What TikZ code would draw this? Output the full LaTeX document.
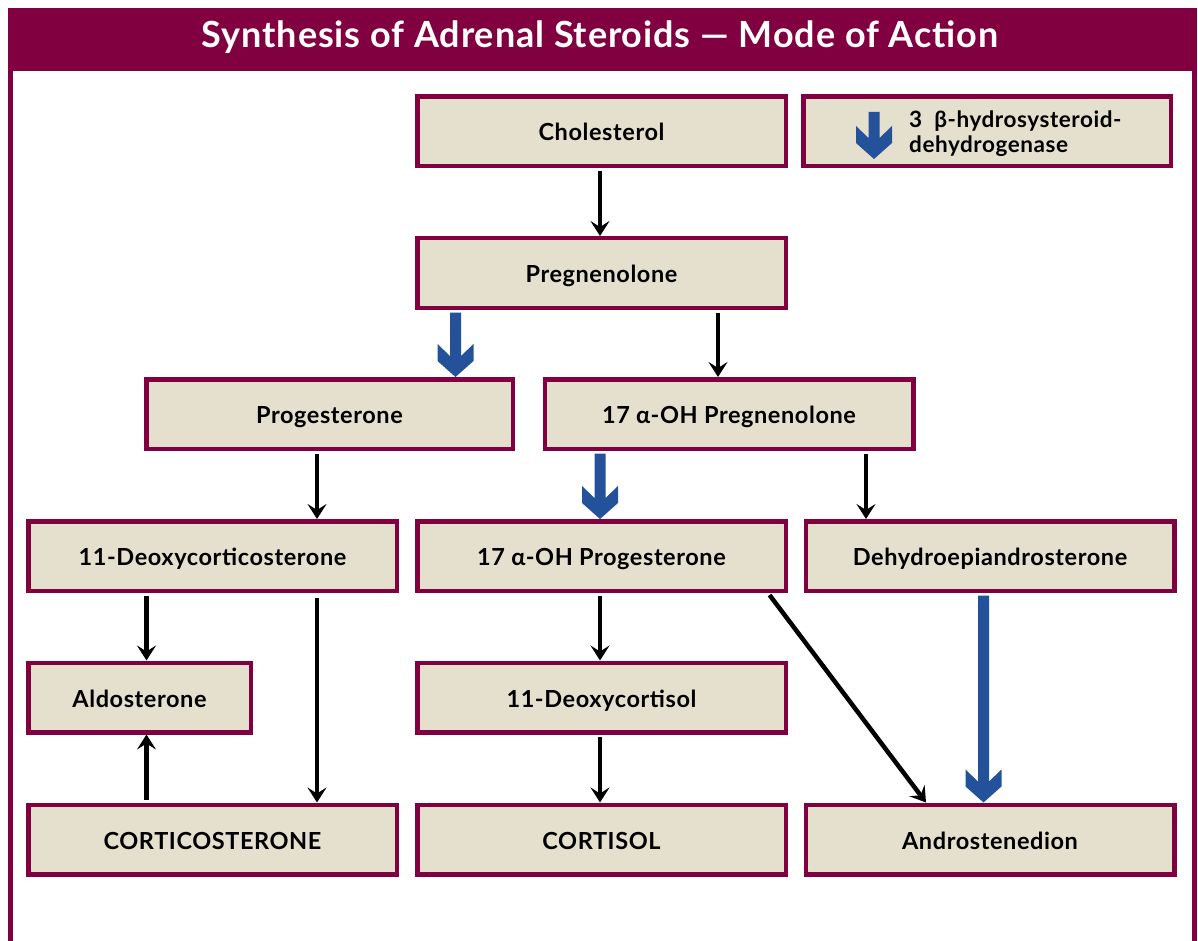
\documentclass[tikz,border=0pt]{standalone}
\usepackage{fontspec}
\setmainfont{Lato}
\newfontfamily\boxfont[LetterSpace=2.5]{Lato}
\newfontfamily\titlefont[LetterSpace=2.5]{Lato}
\usetikzlibrary{arrows.meta,calc}
\definecolor{maroon}{RGB}{128,0,64}
\definecolor{boxfill}{RGB}{229,224,205}
\definecolor{arrowblue}{RGB}{35,81,154}
\newcommand\bluearrow[3]{%
  \fill[arrowblue] let \p1=(#2 -| #1), \p2=(#3 -| #1) in
    (\x1-5.5pt,\y1-2.5pt) -- (\x1-5.5pt,\y2+21pt) -- (\x1-18pt,\y2+33pt) -- (\x1-18pt,\y2+16pt)
    -- (\x1,\y2) -- (\x1+18pt,\y2+16pt) -- (\x1+18pt,\y2+33pt) -- (\x1+5.5pt,\y2+21pt)
    -- (\x1+5.5pt,\y1-2.5pt) -- cycle;}
\tikzset{
  stepbox/.style={draw=maroon, line width=4.5pt, fill=boxfill, minimum width=368.5pt,
    minimum height=69.5pt, inner sep=0pt, text height=19pt, text depth=0pt,
    font=\boxfont\bfseries\fontsize{23.5}{28}\selectfont},
  smallbox/.style={stepbox, minimum width=222.5pt},
  blk/.style={line width=4.5pt, black, shorten <=2.5pt, -{Stealth[length=15pt,width=19pt,inset=6pt]}},
  frame/.style={maroon, line width=5pt},
}
\begin{document}
\begin{tikzpicture}[x=1pt,y=-1pt]
\useasboundingbox (0,0) rectangle (1198,941);
% frame and title bar
\draw[frame] (10.5,60) -- (10.5,941);
\draw[frame] (1194.5,60) -- (1194.5,941);
\fill[maroon] (8,8) rectangle (1197,71);
\node[text=white, font=\titlefont\bfseries\fontsize{36}{40}\selectfont] (title) at (600,37) {Synthesis of Adrenal Steroids — Mode of Action};
% boxes
\node[stepbox] (chol) at (601.5,131.5) {Cholesterol};
\node[stepbox, minimum width=367.5pt] (enz) at (987,131.5) {};
\node[anchor=west, align=left, inner sep=0pt, font=\boxfont\bfseries\fontsize{22.5}{25}\selectfont] (enztext) at (909,134) {3\ \ β-hydrosysteroid-\\dehydrogenase};
\node[stepbox] (preg) at (601.5,273) {Pregnenolone};
\node[stepbox, minimum width=366.5pt] (prog) at (329.5,414) {Progesterone};
\node[stepbox] (ohpreg) at (729,414) {17 α-OH Pregnenolone};
\node[stepbox] (doc) at (212.5,556) {11-Deoxycorticosterone};
\node[stepbox] (ohprog) at (601.5,556) {17 α-OH Progesterone};
\node[stepbox] (dhea) at (990,556) {Dehydroepiandrosterone};
\node[smallbox] (aldo) at (139.5,697.5) {Aldosterone};
\node[stepbox] (dcortisol) at (601.5,697.5) {11-Deoxycortisol};
\node[stepbox] (cortico) at (212.5,839.5) {CORTICOSTERONE};
\node[stepbox] (cortisol) at (601.5,839.5) {CORTISOL};
\node[stepbox] (andro) at (990,839.5) {Androstenedion};
% column coordinates
\coordinate (c146) at (146.5,0);
\coordinate (c317) at (317,0);
\coordinate (c455) at (455.5,0);
\coordinate (c600) at (600,0);
\coordinate (c718) at (718,0);
\coordinate (c768) at (768,0);
\coordinate (c866) at (866,0);
\coordinate (c926) at (926,0);
\coordinate (c983) at (983.5,0);
\coordinate (legtop) at (874,109.5);
\coordinate (legtip) at (874,159);
% black arrows
\draw[blk] (chol.south -| c600) -- (preg.north -| c600);
\draw[blk] (preg.south -| c718) -- (ohpreg.north -| c718);
\draw[blk] (prog.south -| c317) -- (doc.north -| c317);
\draw[blk] (ohpreg.south -| c866) -- (dhea.north -| c866);
\draw[blk] (doc.south -| c146) -- (aldo.north -| c146);
\draw[blk, shorten <=5pt] (doc.south -| c317) -- (cortico.north -| c317);
\draw[blk] (cortico.north -| c146) -- (aldo.south -| c146);
\draw[blk] (ohprog.south -| c600) -- (dcortisol.north -| c600);
\draw[blk] (dcortisol.south -| c600) -- (cortisol.north -| c600);
\draw[blk] (ohprog.south -| c768) -- (andro.north -| c926);
% blue arrows (3 beta-hydroxysteroid dehydrogenase)
\bluearrow{c455}{preg.south}{prog.north}
\bluearrow{c600}{ohpreg.south}{ohprog.north}
\bluearrow{c983}{dhea.south}{andro.north}
\bluearrow{legtop}{legtop}{legtip}
\end{tikzpicture}
\end{document}
